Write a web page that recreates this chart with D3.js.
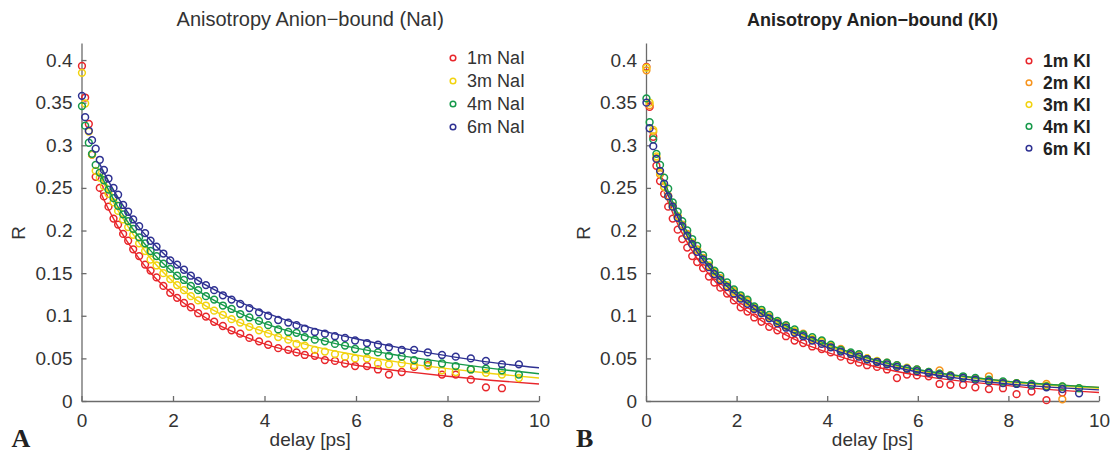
<!DOCTYPE html>
<html>
<head>
<meta charset="utf-8">
<script src="https://cdn.jsdelivr.net/npm/d3@7"></script>
<style>
  body { margin: 0; background: #fff; }
  svg { font-family: "Liberation Sans", Arial, sans-serif; }
  .axis path, .axis line { stroke: #6b6b6b; stroke-width: 1.3; }
  .axis text { font-size: 19px; fill: #333; }
</style>
</head>
<body>
<svg id="chart" width="1111" height="455"></svg>
<script>
// delay grid (ps) shared by all measured series
var delays = [0.01, 0.08, 0.16, 0.23, 0.31, 0.40, 0.49, 0.59, 0.70, 0.80, 0.91, 1.02, 1.13, 1.26, 1.39, 1.51, 1.64, 1.79, 1.94,
  2.09, 2.24, 2.39, 2.55, 2.72, 2.90, 3.09, 3.28, 3.47, 3.67, 3.88, 4.08, 4.30, 4.52, 4.70, 4.88, 5.10, 5.32, 5.54, 5.76, 5.98,
  6.24, 6.48, 6.72, 7.00, 7.27, 7.57, 7.88, 8.18, 8.51, 8.84, 9.19, 9.56];
// delays where the fitted curves are listed
var fitDelays = [0.4, 0.5, 0.75, 1, 1.25, 1.5, 2, 2.5, 3, 3.5, 4, 5, 6, 7, 8, 9, 10];

var xTicks = [0, 2, 4, 6, 8, 10];
var yTicks = [0, 0.05, 0.1, 0.15, 0.2, 0.25, 0.3, 0.35, 0.4];

// panel A : NaI
var nai1m = [0.393, 0.356, 0.325, 0.289, 0.263, 0.250, 0.240, 0.228, 0.214, 0.207, 0.196, 0.188, 0.178, 0.170, 0.160, 0.153, 0.145, 0.135, 0.127,
  0.121, 0.115, 0.110, 0.103, 0.099, 0.093, 0.088, 0.083, 0.079, 0.074, 0.070, 0.066, 0.062, 0.060, 0.057, 0.054, 0.053, 0.048, 0.047, 0.044, 0.041,
  0.041, 0.037, 0.031, 0.034, 0.040, 0.042, 0.031, 0.031, 0.025, 0.016, 0.015, null];
var nai3m = [0.385, 0.349, 0.316, 0.289, 0.270, 0.262, 0.252, 0.243, 0.233, 0.223, 0.213, 0.204, 0.195, 0.185, 0.176, 0.166, 0.159, 0.150, 0.143,
  0.136, 0.130, 0.123, 0.118, 0.112, 0.106, 0.101, 0.096, 0.092, 0.087, 0.083, 0.079, 0.075, 0.072, 0.067, 0.065, 0.060, 0.058, 0.055, 0.052, 0.050,
  0.050, 0.044, 0.043, 0.044, 0.042, 0.041, 0.036, 0.034, 0.037, 0.033, 0.031, 0.027];
var nai4m = [0.346, 0.323, 0.303, 0.290, 0.277, 0.268, 0.259, 0.248, 0.238, 0.229, 0.219, 0.211, 0.202, 0.192, 0.185, 0.176, 0.170, 0.161, 0.155,
  0.147, 0.142, 0.135, 0.130, 0.123, 0.119, 0.112, 0.108, 0.102, 0.098, 0.094, 0.089, 0.084, 0.081, 0.080, 0.075, 0.072, 0.070, 0.067, 0.065, 0.061,
  0.059, 0.057, 0.053, 0.052, 0.048, 0.045, 0.044, 0.041, 0.037, 0.038, 0.036, 0.031];
var nai6m = [0.358, 0.333, 0.317, 0.306, 0.296, 0.283, 0.271, 0.261, 0.250, 0.242, 0.230, 0.222, 0.213, 0.205, 0.197, 0.188, 0.181, 0.173, 0.165,
  0.160, 0.154, 0.147, 0.141, 0.136, 0.130, 0.124, 0.119, 0.114, 0.109, 0.104, 0.100, 0.095, 0.092, 0.089, 0.085, 0.081, 0.079, 0.076, 0.074, 0.071,
  0.068, 0.066, 0.063, 0.060, 0.060, 0.057, 0.054, 0.052, 0.050, 0.047, 0.043, 0.043];
var naiFit1m = [0.247, 0.235, 0.209, 0.187, 0.168, 0.151, 0.125, 0.105, 0.089, 0.077, 0.067, 0.053, 0.042, 0.035, 0.029, 0.024, 0.020];
var naiFit3m = [0.265, 0.254, 0.228, 0.206, 0.186, 0.168, 0.140, 0.119, 0.103, 0.091, 0.081, 0.065, 0.054, 0.045, 0.038, 0.032, 0.027];
var naiFit4m = [0.267, 0.257, 0.232, 0.211, 0.193, 0.177, 0.151, 0.131, 0.115, 0.102, 0.091, 0.075, 0.062, 0.053, 0.045, 0.038, 0.032];
var naiFit6m = [0.278, 0.267, 0.243, 0.222, 0.204, 0.189, 0.163, 0.143, 0.128, 0.115, 0.104, 0.086, 0.073, 0.062, 0.053, 0.045, 0.039];

// panel B : KI
var ki1m = [0.392, 0.345, 0.310, 0.276, 0.258, 0.243, 0.228, 0.214, 0.201, 0.190, 0.180, 0.170, 0.163, 0.156, 0.146, 0.139, 0.133, 0.126, 0.118,
  0.110, 0.105, 0.098, 0.093, 0.087, 0.083, 0.076, 0.071, 0.068, 0.064, 0.061, 0.057, 0.052, 0.048, 0.045, 0.042, 0.040, 0.037, 0.027, 0.031, 0.030,
  0.029, 0.020, 0.019, 0.019, 0.016, 0.014, 0.015, 0.008, 0.011, 0.001, 0.010, null];
var ki2m = [0.388, 0.347, 0.316, 0.285, 0.266, 0.251, 0.241, 0.228, 0.216, 0.207, 0.196, 0.185, 0.178, 0.168, 0.158, 0.152, 0.144, 0.135, 0.129,
  0.121, 0.117, 0.109, 0.104, 0.099, 0.092, 0.088, 0.081, 0.079, 0.072, 0.070, 0.064, 0.061, 0.055, 0.054, 0.050, 0.046, 0.045, 0.042, 0.038, 0.037,
  0.033, 0.036, 0.030, 0.028, 0.026, 0.029, 0.022, 0.021, 0.019, 0.020, 0.002, null];
var ki3m = [0.391, 0.350, 0.318, 0.287, 0.268, 0.252, 0.240, 0.229, 0.217, 0.206, 0.195, 0.186, 0.177, 0.167, 0.159, 0.151, 0.143, 0.136, 0.128,
  0.122, 0.116, 0.110, 0.105, 0.098, 0.093, 0.087, 0.082, 0.078, 0.073, 0.069, 0.065, 0.060, 0.056, 0.053, 0.050, 0.047, 0.044, 0.041, 0.039, 0.036,
  0.034, 0.032, 0.030, 0.028, 0.026, 0.024, 0.022, 0.021, 0.019, 0.018, 0.017, 0.015];
var ki4m = [0.355, 0.327, 0.307, 0.290, 0.277, 0.262, 0.249, 0.233, 0.222, 0.211, 0.200, 0.190, 0.182, 0.171, 0.163, 0.153, 0.147, 0.139, 0.131,
  0.124, 0.119, 0.111, 0.107, 0.101, 0.094, 0.089, 0.084, 0.078, 0.075, 0.071, 0.066, 0.060, 0.057, 0.055, 0.049, 0.046, 0.045, 0.042, 0.038, 0.037,
  0.034, 0.032, 0.030, 0.029, 0.027, 0.025, 0.023, 0.021, 0.020, 0.017, 0.017, 0.015];
var ki6m = [0.350, 0.320, 0.299, 0.284, 0.270, 0.255, 0.240, 0.228, 0.215, 0.205, 0.194, 0.184, 0.175, 0.166, 0.157, 0.149, 0.142, 0.134, 0.126,
  0.120, 0.114, 0.108, 0.103, 0.097, 0.091, 0.086, 0.080, 0.076, 0.071, 0.067, 0.063, 0.058, 0.055, 0.052, 0.049, 0.046, 0.043, 0.040, 0.038, 0.035,
  0.033, 0.031, 0.029, 0.027, 0.025, 0.023, 0.021, 0.020, 0.018, 0.016, 0.014, 0.009];
var kiFit1m = [0.245, 0.232, 0.202, 0.178, 0.158, 0.142, 0.115, 0.096, 0.080, 0.067, 0.057, 0.041, 0.030, 0.023, 0.018, 0.013, 0.010];
var kiFit2m = [0.254, 0.242, 0.212, 0.188, 0.168, 0.152, 0.126, 0.106, 0.090, 0.077, 0.066, 0.049, 0.036, 0.029, 0.023, 0.019, 0.016];
var kiFit3m = [0.255, 0.243, 0.213, 0.188, 0.168, 0.152, 0.126, 0.106, 0.089, 0.076, 0.065, 0.048, 0.036, 0.028, 0.022, 0.018, 0.015];
var kiFit4m = [0.258, 0.245, 0.215, 0.190, 0.170, 0.154, 0.128, 0.108, 0.091, 0.078, 0.067, 0.049, 0.037, 0.029, 0.023, 0.019, 0.016];
var kiFit6m = [0.252, 0.240, 0.210, 0.185, 0.166, 0.150, 0.124, 0.104, 0.087, 0.074, 0.063, 0.046, 0.034, 0.026, 0.020, 0.016, 0.013];

var RED = "#e8262b", ORANGE = "#f7941d", YELLOW = "#f2d30f", GREEN = "#16994a", BLUE = "#2e3192";

var svg = d3.select("#chart");
svg.append("rect").attr("width", 1111).attr("height", 455).attr("fill", "#fff");

function drawPanel(p) {
	var x = d3.scaleLinear().domain([0, 10]).range([p.left, p.right]);
	var y = d3.scaleLinear().domain([0, 0.42]).range([401, 43]);
	var g = svg.append("g");

	g.append("g")
	.attr("class", "axis")
	.attr("transform", "translate(0,401)")
	.call(d3.axisBottom(x).tickValues(xTicks).tickSizeInner(-5).tickSizeOuter(0).tickPadding(13));

	g.append("g")
	.attr("class", "axis")
	.attr("transform", "translate(" + p.left + ",0)")
	.call(d3.axisLeft(y).tickValues(yTicks).tickSizeInner(-5).tickSizeOuter(0).tickPadding(9)
		.tickFormat(function (d) {return d3.format("~g")(d);}));

	var line = d3.line()
	.x(function (d) {return x(d[0]);})
	.y(function (d) {return y(d[1]);})
	.curve(d3.curveMonotoneX);

	p.series.forEach(function (s) {
		var pts = delays.map(function (t, i) {return [t, s.values[i]];})
		.filter(function (d) {return d[1] != null;});

		g.append("g").selectAll("circle")
		.data(pts)
		.enter().append("circle")
		.attr("cx", function (d) {return x(d[0]);})
		.attr("cy", function (d) {return y(d[1]);})
		.attr("r", 3.4)
		.attr("fill", "none")
		.attr("stroke", s.color)
		.attr("stroke-width", 1.5);

		g.append("path")
		.datum(fitDelays.map(function (t, i) {return [t, s.fit[i]];}))
		.attr("d", line)
		.attr("fill", "none")
		.attr("stroke", s.color)
		.attr("stroke-width", 1.4);
	});

	// titles and labels
	var mid = (p.left + p.right) / 2;
	g.append("text")
	.attr("x", mid).attr("y", 26)
	.attr("text-anchor", "middle")
	.style("font-size", p.bold ? "18px" : "20px")
	.style("font-weight", p.bold ? "bold" : "normal")
	.style("fill", p.bold ? "#222" : "#333")
	.text(p.title);

	g.append("text")
	.attr("x", mid).attr("y", 446)
	.attr("text-anchor", "middle")
	.style("font-size", "19px")
	.style("fill", "#333")
	.text("delay [ps]");

	g.append("text")
	.attr("transform", "translate(" + (p.left - 56.5) + ",233) rotate(-90)")
	.attr("text-anchor", "middle")
	.style("font-size", "19px")
	.style("fill", "#333")
	.text("R");

	g.append("text")
	.attr("x", p.left - 70).attr("y", 447)
	.style("font-family", "'Liberation Serif', 'Times New Roman', serif")
	.style("font-size", "26px")
	.style("font-weight", "bold")
	.style("fill", "#222")
	.text(p.letter);

	// legend
	var leg = g.append("g").selectAll("g")
	.data(p.series)
	.enter().append("g")
	.attr("transform", function (d, i) {return "translate(" + p.legX + "," + (p.legY + i * p.legStep) + ")";});

	leg.append("circle")
	.attr("r", 2.8)
	.attr("fill", "none")
	.attr("stroke", function (d) {return d.color;})
	.attr("stroke-width", 1.5);

	leg.append("text")
	.attr("x", 14).attr("dy", "0.36em")
	.style("font-size", p.bold ? "17.5px" : "18px")
	.style("font-weight", p.bold ? "bold" : "normal")
	.style("fill", p.bold ? "#222" : "#333")
	.text(function (d) {return d.name;});
}

drawPanel({
	left: 81.5, right: 539, title: "Anisotropy Anion\u2212bound (NaI)", letter: "A", bold: false,
	legX: 453, legY: 58, legStep: 23,
	series: [
		{name: "1m NaI", color: RED, values: nai1m, fit: naiFit1m},
		{name: "3m NaI", color: YELLOW, values: nai3m, fit: naiFit3m},
		{name: "4m NaI", color: GREEN, values: nai4m, fit: naiFit4m},
		{name: "6m NaI", color: BLUE, values: nai6m, fit: naiFit6m}
	]
});

drawPanel({
	left: 646, right: 1099, title: "Anisotropy Anion\u2212bound (KI)", letter: "B", bold: true,
	legX: 1029, legY: 61, legStep: 21.8,
	series: [
		{name: "1m KI", color: RED, values: ki1m, fit: kiFit1m},
		{name: "2m KI", color: ORANGE, values: ki2m, fit: kiFit2m},
		{name: "3m KI", color: YELLOW, values: ki3m, fit: kiFit3m},
		{name: "4m KI", color: GREEN, values: ki4m, fit: kiFit4m},
		{name: "6m KI", color: BLUE, values: ki6m, fit: kiFit6m}
	]
});
</script>
</body>
</html>
